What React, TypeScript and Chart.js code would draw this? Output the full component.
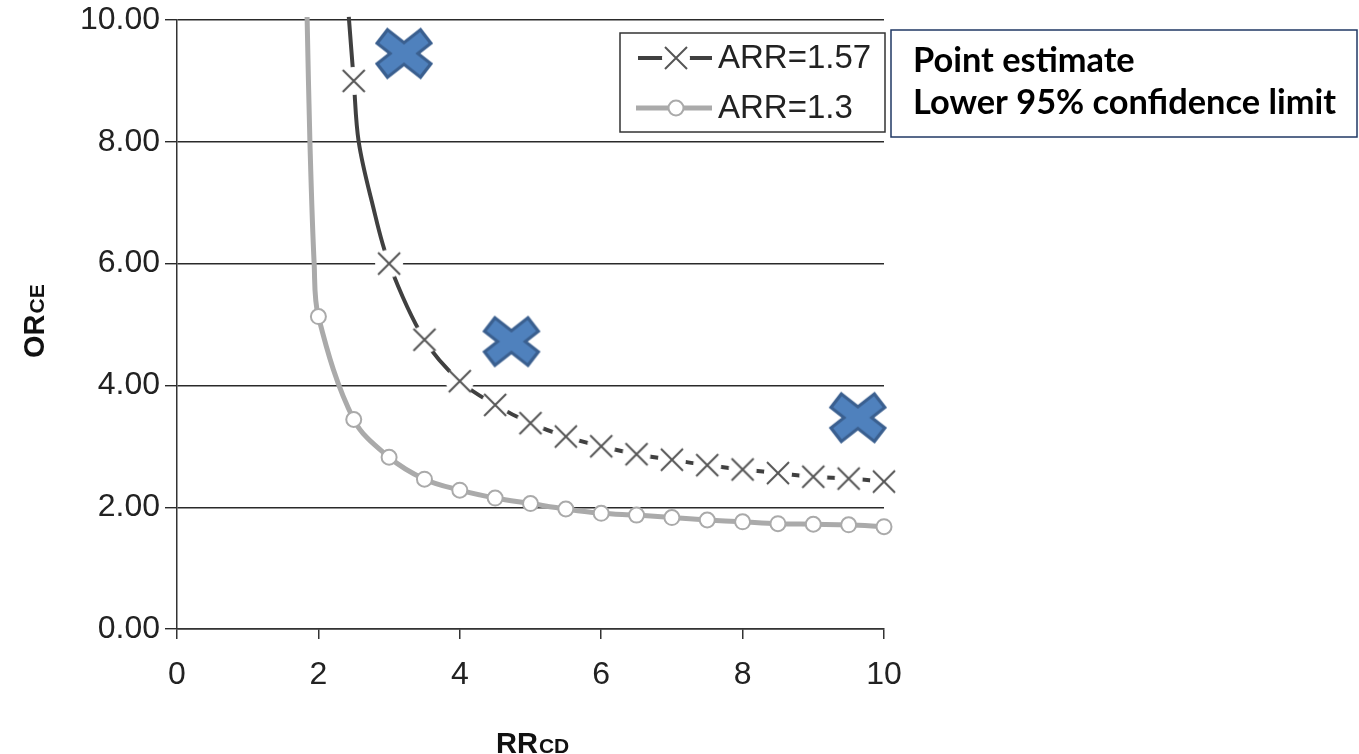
import React, { useEffect, useRef } from "react";
import { Chart, registerables } from "chart.js";

Chart.register(...registerables);

// ---- data ----
const xTickValues = [0, 2, 4, 6, 8, 10];
const yTickValues = [0, 2, 4, 6, 8, 10];

// ARR = 1.57 (point estimate), marker positions
const arr157MarkerRR = [2.5, 3, 3.5, 4, 4.5, 5, 5.5, 6, 6.5, 7, 7.5, 8, 8.5, 9, 9.5, 10];
const arr157MarkerOR = [9.0, 6.0, 4.75, 4.07, 3.68, 3.38, 3.16, 3.0, 2.87, 2.78, 2.69, 2.62, 2.56, 2.5, 2.47, 2.42];
// extra points along the steep part of the curve (no marker)
const arr157SteepRR = [2.43, 2.57, 2.76];
const arr157SteepOR = [10.05, 8.0, 7.0];

// ARR = 1.3 (lower 95% confidence limit), marker positions
const arr13MarkerRR = [2, 2.5, 3, 3.5, 4, 4.5, 5, 5.5, 6, 6.5, 7, 7.5, 8, 8.5, 9, 9.5, 10];
const arr13MarkerOR = [5.13, 3.44, 2.82, 2.46, 2.28, 2.15, 2.06, 1.97, 1.9, 1.87, 1.83, 1.79, 1.76, 1.73, 1.72, 1.71, 1.68];
const arr13SteepRR = [1.84, 1.88, 1.94];
const arr13SteepOR = [10.05, 8.0, 6.0];

// large blue annotation crosses
const bigCrossRR = [3.21, 4.73, 9.63];
const bigCrossOR = [9.45, 4.72, 3.47];

const legendLabels = ["ARR=1.57", "ARR=1.3"];
const noteLines = ["Point estimate", "Lower 95% confidence limit"];
const yTitleMain = "OR";
const yTitleSub = "CE";
const xTitleMain = "RR";
const xTitleSub = "CD";

// ---- helpers ----
function pts(xs: number[], ys: number[]) {
  return xs.map((x, i) => ({ x, y: ys[i] }));
}
function curve(xa: number[], ya: number[], xb: number[], yb: number[]) {
  return [...pts(xa, ya), ...pts(xb, yb)].sort((a, b) => a.x - b.x);
}

const DARK = "#404040";
const LIGHT = "#aaaaaa";
const FONT = "'Liberation Sans', Arial, sans-serif";

function makeCrossImage(): HTMLCanvasElement {
  const c = document.createElement("canvas");
  c.width = 30;
  c.height = 30;
  const g = c.getContext("2d")!;
  g.fillStyle = "#ffffff";
  g.beginPath();
  g.arc(15, 15, 14, 0, Math.PI * 2);
  g.fill();
  g.strokeStyle = "#555555";
  g.lineWidth = 2;
  g.beginPath();
  g.moveTo(4, 4);
  g.lineTo(26, 26);
  g.moveTo(4, 26);
  g.lineTo(26, 4);
  g.stroke();
  return c;
}

function makeBigCross(): HTMLCanvasElement {
  const c = document.createElement("canvas");
  c.width = 70;
  c.height = 64;
  const g = c.getContext("2d")!;
  const cx = 35, cy = 32, ax = 23, ay = 18;
  g.lineCap = "butt";
  g.strokeStyle = "#3A5F8F";
  g.lineWidth = 20;
  g.beginPath();
  g.moveTo(cx - ax, cy - ay);
  g.lineTo(cx + ax, cy + ay);
  g.moveTo(cx - ax, cy + ay);
  g.lineTo(cx + ax, cy - ay);
  g.stroke();
  g.strokeStyle = "#4F81BD";
  g.lineWidth = 14;
  const ix = ax - 2.6, iy = ay - 2.0;
  g.beginPath();
  g.moveTo(cx - ix, cy - iy);
  g.lineTo(cx + ix, cy + iy);
  g.moveTo(cx - ix, cy + iy);
  g.lineTo(cx + ix, cy - iy);
  g.stroke();
  return c;
}

export default function App() {
  const ref = useRef<HTMLCanvasElement | null>(null);

  useEffect(() => {
    if (!ref.current) return;
    const crossImg = makeCrossImage();
    const bigCross = makeBigCross();

    const overlay = {
      id: "overlay",
      afterDraw(chart: any) {
        const ctx: CanvasRenderingContext2D = chart.ctx;
        ctx.save();

        // y axis title (rotated, with smaller caps subscript)
        ctx.save();
        ctx.translate(44, 358);
        ctx.rotate(-Math.PI / 2);
        ctx.fillStyle = "#111";
        ctx.textBaseline = "alphabetic";
        ctx.textAlign = "left";
        ctx.font = `bold 29px ${FONT}`;
        ctx.fillText(yTitleMain, 0, 0);
        const w1 = ctx.measureText(yTitleMain).width;
        ctx.font = `bold 21px ${FONT}`;
        ctx.fillText(yTitleSub, w1 + 1, 0);
        ctx.restore();

        // x axis title
        ctx.fillStyle = "#111";
        ctx.textAlign = "left";
        ctx.textBaseline = "alphabetic";
        ctx.font = `bold 29px ${FONT}`;
        ctx.fillText(xTitleMain, 496, 753);
        const w2 = ctx.measureText(xTitleMain).width;
        ctx.font = `bold 21px ${FONT}`;
        ctx.fillText(xTitleSub, 496 + w2 + 1, 753);

        // legend box inside the plot
        ctx.fillStyle = "#ffffff";
        ctx.fillRect(620, 33, 265, 99);
        ctx.strokeStyle = "#333";
        ctx.lineWidth = 1.5;
        ctx.strokeRect(620, 33, 265, 99);

        const r1 = 58, r2 = 108;
        ctx.strokeStyle = DARK;
        ctx.lineWidth = 4;
        ctx.beginPath();
        ctx.moveTo(638, r1);
        ctx.lineTo(712, r1);
        ctx.stroke();
        ctx.drawImage(crossImg, 676 - 15, r1 - 15);

        ctx.strokeStyle = LIGHT;
        ctx.lineWidth = 5;
        ctx.beginPath();
        ctx.moveTo(636, r2);
        ctx.lineTo(712, r2);
        ctx.stroke();
        ctx.beginPath();
        ctx.arc(676, r2, 7.5, 0, Math.PI * 2);
        ctx.fillStyle = "#fff";
        ctx.fill();
        ctx.lineWidth = 2;
        ctx.stroke();

        ctx.fillStyle = "#222";
        ctx.font = `33px ${FONT}`;
        ctx.textBaseline = "middle";
        ctx.fillText(legendLabels[0], 718, r1 + 1);
        ctx.fillText(legendLabels[1], 718, r2 + 1);

        // note box at right
        ctx.strokeStyle = "#203864";
        ctx.lineWidth = 1.5;
        ctx.strokeRect(891, 30, 466, 107);
        ctx.fillStyle = "#000";
        ctx.textBaseline = "alphabetic";
        let size = 30;
        ctx.font = `bold ${size}px Lato, 'Open Sans', sans-serif`;
        const wm = ctx.measureText(noteLines[1]).width;
        size = (size * 423) / wm;
        ctx.font = `bold ${size.toFixed(2)}px Lato, 'Open Sans', sans-serif`;
        ctx.fillText(noteLines[0], 913, 72);
        ctx.fillText(noteLines[1], 913, 114);

        ctx.restore();
      },
    };

    const chart = new Chart(ref.current, {
      type: "scatter",
      data: {
        datasets: [
          {
            label: "big crosses",
            data: pts(bigCrossRR, bigCrossOR),
            showLine: false,
            pointStyle: bigCross as any,
            pointRadius: 10,
            order: 0,
            clip: false as any,
          },
          {
            label: "ARR=1.57 markers",
            data: pts(arr157MarkerRR, arr157MarkerOR),
            showLine: false,
            pointStyle: crossImg as any,
            pointRadius: 10,
            order: 1,
            clip: false as any,
          },
          {
            label: "ARR=1.3 markers",
            data: pts(arr13MarkerRR, arr13MarkerOR),
            showLine: false,
            pointStyle: "circle",
            pointRadius: 7.5,
            pointBackgroundColor: "#ffffff",
            pointBorderColor: LIGHT,
            pointBorderWidth: 2,
            order: 2,
            clip: false as any,
          },
          {
            label: legendLabels[0],
            data: curve(arr157MarkerRR, arr157MarkerOR, arr157SteepRR, arr157SteepOR),
            showLine: true,
            borderColor: DARK,
            borderWidth: 4,
            pointRadius: 0,
            tension: 0.35,
            order: 3,
            clip: false as any,
          },
          {
            label: legendLabels[1],
            data: curve(arr13MarkerRR, arr13MarkerOR, arr13SteepRR, arr13SteepOR),
            showLine: true,
            borderColor: LIGHT,
            borderWidth: 5,
            pointRadius: 0,
            tension: 0.35,
            order: 4,
            clip: false as any,
          },
        ],
      },
      options: {
        animation: false,
        responsive: false,
        devicePixelRatio: 1,
        events: [],
        layout: { padding: { top: 20, right: 475, left: 0, bottom: 0 } },
        plugins: {
          legend: { display: false },
          tooltip: { enabled: false },
        },
        elements: { line: { capBezierPoints: false } },
        scales: {
          x: {
            type: "linear",
            min: 0,
            max: 10,
            afterFit: (s: any) => {
              s.height = 125;
              s.paddingLeft = 0;
              s.paddingRight = 0;
            },
            afterBuildTicks: (s: any) => {
              s.ticks = xTickValues.map((v) => ({ value: v }));
            },
            ticks: {
              font: { family: FONT, size: 32 },
              color: "#222",
              padding: 17,
              maxRotation: 0,
              callback: (v: any) => String(v),
            },
            grid: {
              drawOnChartArea: false,
              drawTicks: true,
              tickLength: 10,
              color: "#333",
              lineWidth: 1.5,
            },
            border: { display: true, color: "#333", width: 1.5 },
          },
          y: {
            type: "linear",
            min: 0,
            max: 10,
            afterFit: (s: any) => {
              s.width = 177;
              s.paddingTop = 0;
              s.paddingBottom = 0;
            },
            afterBuildTicks: (s: any) => {
              s.ticks = yTickValues.map((v) => ({ value: v }));
            },
            ticks: {
              font: { family: FONT, size: 32 },
              color: "#222",
              padding: 5,
              callback: (v: any) => Number(v).toFixed(2),
            },
            grid: {
              drawTicks: true,
              tickLength: 12,
              color: "#2a2a2a",
              lineWidth: 1.4,
            },
            border: { display: true, color: "#333", width: 1.5 },
          },
        },
      },
      plugins: [overlay],
    });
    return () => chart.destroy();
  }, []);

  return (
    <div style={{ position: "fixed", left: 0, top: 0, width: 1359, height: 754, background: "#fff" }}>
      <canvas ref={ref} width={1359} height={754} style={{ display: "block" }} />
    </div>
  );
}
